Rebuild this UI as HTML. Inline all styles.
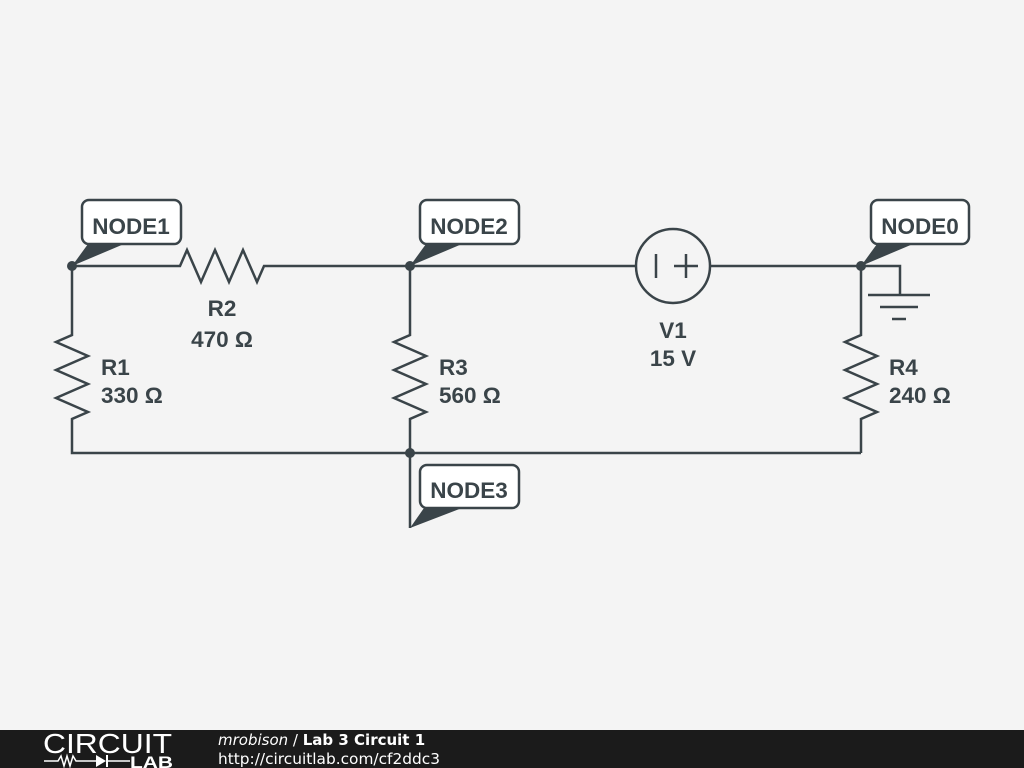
<!DOCTYPE html>
<html><head><meta charset="utf-8"><style>
html,body{margin:0;padding:0;width:1024px;height:768px;overflow:hidden;background:#f4f4f4}
svg{display:block}
</style></head><body>
<svg width="1024" height="768" viewBox="0 0 1024 768" xmlns="http://www.w3.org/2000/svg" font-family="Liberation Sans, sans-serif">
<rect width="1024" height="768" fill="#f4f4f4"/>
<g stroke="#3a4449" stroke-width="2.5" fill="none" stroke-linejoin="miter">
<polyline points="72,266 180,266 187,250 201,282 215,250 229,282 243,250 257,282 264,266 636,266"/>
<line x1="710" y1="266" x2="861" y2="266"/>
<polyline points="72,266 72,335 56,342 88,356 56,370 88,384 56,398 88,412 72,419 72,453 861,453"/>
<polyline points="410,266 410,335 394,342 426,356 394,370 426,384 394,398 426,412 410,419 410,528"/>
<polyline points="861,266 861,335 845,342 877,356 845,370 877,384 845,398 877,412 861,419 861,453"/>
<circle cx="673" cy="266" r="37"/>
<line x1="656" y1="254" x2="656" y2="278"/>
<line x1="674" y1="266" x2="698" y2="266"/>
<line x1="686" y1="254" x2="686" y2="278"/>
<polyline points="861,266 900,266 900,295"/>
<line x1="868" y1="295" x2="930" y2="295"/>
<line x1="880" y1="307" x2="918" y2="307"/>
<line x1="892" y1="319" x2="906" y2="319"/>
<rect x="82" y="200" width="99" height="44" rx="7" fill="#fff"/>
<rect x="420" y="200" width="99" height="44" rx="7" fill="#fff"/>
<rect x="871" y="200" width="98" height="44" rx="7" fill="#fff"/>
<rect x="420" y="465" width="99" height="43" rx="7" fill="#fff"/>
</g>
<g fill="#3a4449">
<circle cx="72" cy="266" r="5"/>
<circle cx="410" cy="266" r="5"/>
<circle cx="861" cy="266" r="5"/>
<circle cx="410" cy="453" r="5"/>
<polygon points="72,266 88,244 124,244"/>
<polygon points="410,266 426,244 462,244"/>
<polygon points="861,266 877,244 913,244"/>
<polygon points="410,528 424,508 462,508"/>
</g>
<g fill="#3a4449" font-weight="bold" font-size="22.5">
<text x="131" y="234" text-anchor="middle">NODE1</text>
<text x="469" y="234" text-anchor="middle">NODE2</text>
<text x="920" y="234" text-anchor="middle">NODE0</text>
<text x="469" y="498" text-anchor="middle">NODE3</text>
<text x="222" y="316" text-anchor="middle">R2</text>
<text x="222" y="347" text-anchor="middle">470 Ω</text>
<text x="101" y="375">R1</text>
<text x="101" y="403">330 Ω</text>
<text x="439" y="375">R3</text>
<text x="439" y="403">560 Ω</text>
<text x="889" y="375">R4</text>
<text x="889" y="403">240 Ω</text>
<text x="673" y="338" text-anchor="middle">V1</text>
<text x="673" y="366" text-anchor="middle">15 V</text>
</g>
<rect x="0" y="730" width="1024" height="38" fill="#1b1b1b"/>
<text x="43" y="753" fill="#fff" font-size="28" font-weight="normal" textLength="129" lengthAdjust="spacingAndGlyphs">CIRCUIT</text>
<polyline points="44,761 58,761 61,756 64,766 67,756 70,766 73,756 76,761 96,761" stroke="#fff" stroke-width="1.5" fill="none"/>
<polygon points="96,755 96,767 106,761" fill="#fff"/>
<line x1="107" y1="755" x2="107" y2="767" stroke="#fff" stroke-width="2"/>
<line x1="107" y1="761" x2="130" y2="761" stroke="#fff" stroke-width="1.5"/>
<text x="130" y="768" fill="#fff" font-size="17" font-weight="bold" textLength="43" lengthAdjust="spacingAndGlyphs">LAB</text>
<text x="218" y="745" fill="#fff" font-size="15" font-family="DejaVu Sans, sans-serif"><tspan font-style="italic">mrobison</tspan> / <tspan font-weight="bold">Lab 3 Circuit 1</tspan></text>
<text x="218" y="764" fill="#fff" font-size="15" font-family="DejaVu Sans, sans-serif" textLength="222" lengthAdjust="spacingAndGlyphs">http://circuitlab.com/cf2ddc3</text>
</svg>
</body></html>
